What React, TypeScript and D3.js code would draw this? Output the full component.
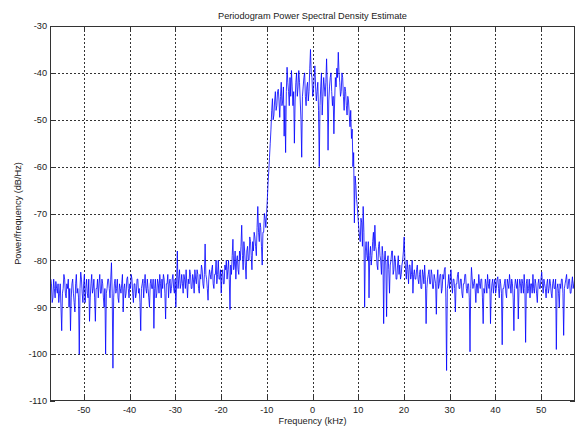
import React from "react";
import * as d3 from "d3";

const W = 579;
const H = 427;

const title = "Periodogram Power Spectral Density Estimate";
const xLabel = "Frequency (kHz)";
const yLabel = "Power/frequency (dB/Hz)";

const xDomain = [-57.4, 57.4];
const yDomain = [-110, -30];
const xTicks = [-50, -40, -30, -20, -10, 0, 10, 20, 30, 40, 50];
const yTicks = [-110, -100, -90, -80, -70, -60, -50, -40, -30];

const freqStart = -57.4;
const freqStep = 0.16;

// PSD estimate (dB/Hz), one value per frequency bin
const psd = [
  -87, -84, -85, -89, -88, -84, -86, -88, -84.5, -86, -87, -85, -89, -87, -85, -90, -95, -87, -86, -83,
  -84, -87, -88, -85, -86, -84, -90, -86, -95, -88, -85, -84, -87, -89, -91, -85, -83, -87, -86, -88,
  -100, -86, -82.5, -84, -87, -89, -85, -83, -89, -86, -84, -87, -88, -84, -93, -88, -85, -83, -87, -86,
  -84, -88, -93, -86, -86, -84, -88, -85, -83, -87, -87, -84, -85, -88, -90, -86, -100, -87, -86, -84,
  -84, -86, -88, -84, -80.5, -87, -103, -88, -85, -84, -87, -86, -84, -88, -89, -85, -86, -87, -85, -83,
  -91, -86, -85, -88, -87, -84, -83.5, -86, -88, -85, -86, -83, -84, -87, -89, -85, -85, -88, -87, -84,
  -84, -87, -86, -89, -95, -86, -85, -84, -88, -85, -83, -86, -87, -84, -86, -88, -90, -85, -84, -86,
  -86, -84, -94.5, -86, -84, -88, -87, -84, -85, -87, -83, -85, -88, -84, -86, -83, -84, -87, -92.5, -85,
  -85, -83, -88, -85, -84, -87, -86, -84, -83, -86, -87, -84, -90, -85, -78, -86, -84, -82, -86, -85,
  -83, -85, -87, -83, -84, -86, -82, -85, -88, -84, -85, -82, -83, -86, -86, -83, -84, -87, -82, -84,
  -85, -82, -83, -86, -87, -83, -84, -81, -82, -85, -86, -83, -76.5, -83, -84, -86, -88.5, -84, -82, -83,
  -84, -82, -81, -85, -86, -83, -83, -80, -85, -83, -80, -84, -84, -82, -87, -83, -82, -85, -85, -81,
  -82, -80, -84, -82, -80, -84, -90.5, -81, -83, -79, -75.5, -82, -81, -78, -84, -80, -79, -82, -83, -78,
  -80, -77, -72.5, -79, -82, -76, -78, -81, -84, -78, -77, -80, -80, -75, -76, -79, -82, -76, -78, -74,
  -75, -77, -79, -73, -68.5, -74, -76, -72, -73, -77, -81, -74, -74, -70, -71, -73, -70, -67, -63.5, -61,
  -58, -55, -52, -48, -45.5, -50, -49, -46, -44, -48, -47, -44, -43.5, -46, -49.5, -45, -42, -47, -46, -43,
  -53.5, -47, -57, -44, -38.8, -42, -44, -47, -41, -45, -39.5, -43, -47, -44, -55, -46, -42, -40, -45, -43,
  -39.5, -42, -46, -50, -58, -45, -43, -41, -40, -45, -47, -43, -42, -46, -44, -39, -35, -40, -41, -45,
  -44, -41, -38.5, -43, -46, -44, -42, -48, -60, -47, -43, -40, -49, -45, -41, -43, -45, -42, -37, -43,
  -56.5, -46, -43, -41, -40, -44, -47, -45, -53, -46, -41, -43, -39, -41, -35.6, -40, -42, -45, -44, -40,
  -41, -45, -48, -43, -44, -47, -49, -45, -46, -49, -51.5, -48, -54, -52, -60, -57, -72, -62, -64, -67,
  -68.5, -71, -73, -75, -76, -71, -72, -77, -68.5, -74, -90, -78, -76, -79, -80, -76, -88, -79, -77, -81,
  -79, -76, -74, -78, -72.5, -77, -78, -81, -82, -77, -76, -79, -80, -83, -77, -79, -93.5, -80, -78, -81,
  -92, -80, -79, -82, -87, -81, -80, -78, -78, -83, -82, -79, -80, -84, -84, -81, -79, -83, -81, -84,
  -83, -81, -80, -78, -75, -80, -82, -84, -80, -82, -85, -81, -81, -84, -83, -80, -87, -83, -82, -84,
  -84, -82, -81, -84, -85, -83, -82, -86, -86, -82, -83, -85, -81, -84, -93.5, -86, -84, -83, -82, -85,
  -85, -82, -83, -86, -86, -83, -84, -85, -91.5, -84, -82, -86, -85, -83, -83, -87, -86, -83, -84, -82,
  -81.5, -88, -103.5, -86, -85, -83, -86, -84, -82, -85, -87, -84, -84, -86, -91, -85, -85, -83, -82.5, -86,
  -86, -84, -84, -87, -88, -85, -85, -83, -83, -86, -87, -85, -85, -88, -99.5, -86, -81.5, -84, -86, -85,
  -84, -86, -89, -85, -85, -87, -83, -85, -86, -84, -84, -88, -93.5, -86, -87, -84, -85, -87, -83, -85,
  -86, -84, -93.5, -87, -85, -84, -87, -85, -84, -87, -86, -84, -83.5, -86, -88, -84, -85, -87, -98, -86,
  -86, -85, -84, -87, -88, -84, -85, -86, -83, -85, -87, -84, -85, -88, -95, -86, -84, -85, -86, -84,
  -92.5, -86, -84, -85, -87, -84, -85, -87, -83, -86, -97.5, -85, -84, -87, -86, -84, -88, -85, -85, -87,
  -83, -86, -87, -84, -85, -87, -89, -85, -84, -86, -86, -84, -82.5, -85, -87, -84, -85, -86, -88, -85,
  -84, -87, -86, -84, -85, -87, -88, -85, -84, -86, -86, -84, -99, -86, -85, -87, -90, -85, -86, -84,
  -84, -87, -96, -86, -85, -84, -83, -86, -86, -84, -84, -87, -87, -85, -83.5, -86, -85, -84, -100, -100,
];

const margin = { left: 50, right: 4, top: 26, bottom: 26 };
const fontFamily = "'Liberation Sans', Arial, Helvetica, sans-serif";

export default function App() {
  const x0 = margin.left;
  const x1 = W - margin.right;
  const y0 = margin.top;
  const y1 = H - margin.bottom;

  const x = d3.scaleLinear().domain(xDomain).range([x0, x1]);
  const y = d3.scaleLinear().domain(yDomain).range([y1, y0]);

  const pts = psd.map((v, i) => [freqStart + i * freqStep, v] as [number, number]);
  const line = d3
    .line<[number, number]>()
    .x((d) => x(d[0]))
    .y((d) => y(d[1]));

  const gridColor = "#333";
  const axisColor = "#333";
  const fs = 9.2;

  return (
    <svg
      width={W}
      height={H}
      style={{ position: "absolute", left: 0, top: 0, background: "#fff" }}
    >
      <rect x={0} y={0} width={W} height={H} fill="#fff" />
      <defs>
        <clipPath id="plotClip">
          <rect x={x0} y={y0} width={x1 - x0} height={y1 - y0} />
        </clipPath>
      </defs>
      <g shapeRendering="crispEdges">
        {xTicks.map((t) => (
          <line
            key={"gx" + t}
            x1={Math.round(x(t)) + 0.5}
            x2={Math.round(x(t)) + 0.5}
            y1={y0}
            y2={y1}
            stroke={gridColor}
            strokeWidth={1}
            strokeDasharray="2,2"
          />
        ))}
        {yTicks
          .filter((t) => t > yDomain[0] && t < yDomain[1])
          .map((t) => (
            <line
              key={"gy" + t}
              x1={x0}
              x2={x1}
              y1={Math.round(y(t)) + 0.5}
              y2={Math.round(y(t)) + 0.5}
              stroke={gridColor}
              strokeWidth={1}
              strokeDasharray="2,2"
            />
          ))}
      </g>
      <path
        d={line(pts) || ""}
        fill="none"
        stroke="#0000ff"
        strokeWidth={0.8}
        clipPath="url(#plotClip)"
      />
      <rect
        x={x0 + 0.5}
        y={y0 + 0.5}
        width={x1 - x0 - 1}
        height={y1 - y0 - 1}
        fill="none"
        stroke={axisColor}
        strokeWidth={1}
        shapeRendering="crispEdges"
      />
      <g stroke={axisColor} shapeRendering="crispEdges">
        {xTicks.map((t) => (
          <g key={"tx" + t}>
            <line x1={Math.round(x(t)) + 0.5} x2={Math.round(x(t)) + 0.5} y1={y1} y2={y1 - 5} />
            <line x1={Math.round(x(t)) + 0.5} x2={Math.round(x(t)) + 0.5} y1={y0} y2={y0 + 5} />
          </g>
        ))}
        {yTicks.map((t) => (
          <g key={"ty" + t}>
            <line x1={x0} x2={x0 + 5} y1={Math.round(y(t)) + 0.5} y2={Math.round(y(t)) + 0.5} />
            <line x1={x1} x2={x1 - 5} y1={Math.round(y(t)) + 0.5} y2={Math.round(y(t)) + 0.5} />
          </g>
        ))}
      </g>
      <g fontFamily={fontFamily} fontSize={fs} fill="#222">
        {xTicks.map((t) => (
          <text key={"lx" + t} x={x(t)} y={y1 + 11.5} textAnchor="middle">
            {t}
          </text>
        ))}
        {yTicks.map((t) => (
          <text key={"ly" + t} x={x0 - 3} y={y(t) + 3.3} textAnchor="end">
            {t}
          </text>
        ))}
        <text x={(x0 + x1) / 2} y={18.5} textAnchor="middle">
          {title}
        </text>
        <text x={(x0 + x1) / 2} y={H - 3} textAnchor="middle">
          {xLabel}
        </text>
        <text
          transform={`translate(21, ${(y0 + y1) / 2}) rotate(-90)`}
          textAnchor="middle"
        >
          {yLabel}
        </text>
      </g>
    </svg>
  );
}
